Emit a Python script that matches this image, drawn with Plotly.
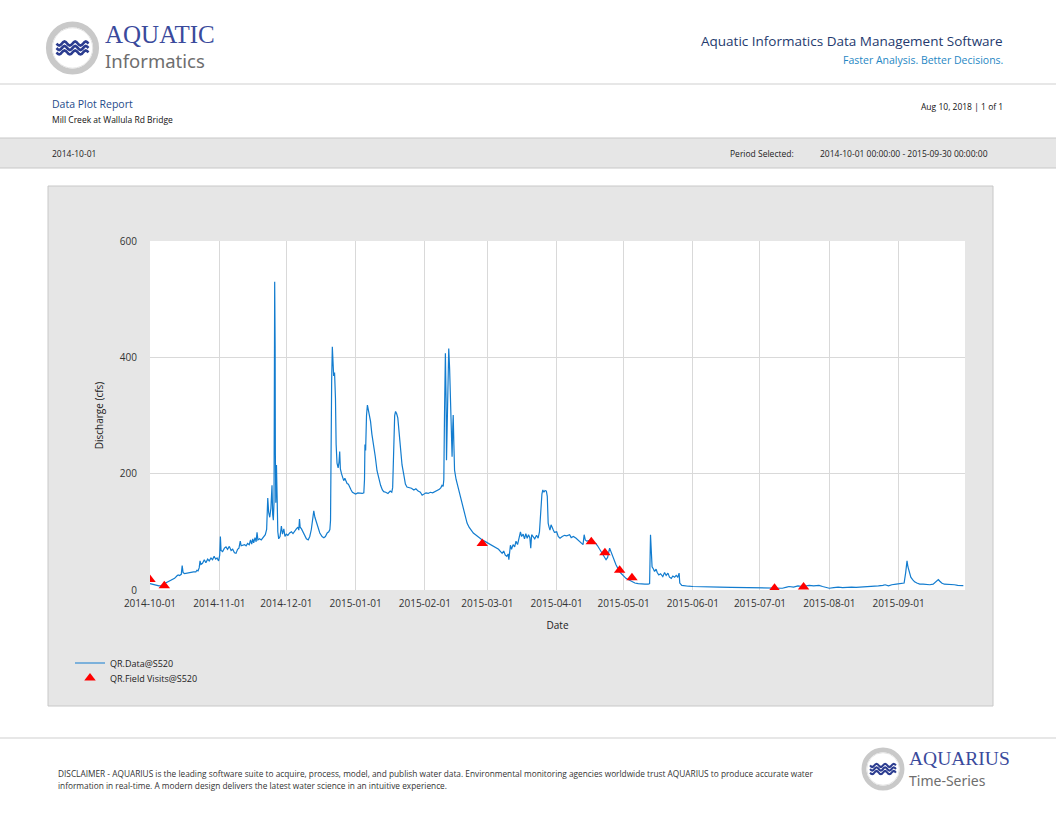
import math
import pandas as pd
import plotly.graph_objects as go

W, H = 1056, 816

# 流量数据：自 2014-10-01 起的天数 / 流量 (cfs)
start_date = "2014-10-01"
day_offsets = [
    0, 1, 2, 3, 4, 5, 6, 7, 8, 9, 10, 11, 12, 12.6, 13.2, 14, 14.4, 14.8, 15.5, 16.5,
    17.5, 18.5, 19.5, 20.5, 21, 21.5, 22, 22.4, 22.8, 23.5, 24.3, 25, 25.8, 26.5, 27.3, 28,
    28.7, 29.4, 30, 30.7, 31.2, 31.5, 31.8, 32.5, 33.3, 34, 34.7, 35.5, 36.3, 37, 37.8, 38.5,
    39.2, 39.8, 40.4, 40.8, 41.5, 42.3, 43, 43.7, 44.4, 45, 45.5, 46, 46.4, 47, 47.5, 47.9,
    48.3, 49, 49.8, 50.5, 51.2, 51.6, 52.2, 52.7, 53.1, 53.6, 54.1, 54.6, 54.9, 55.2, 55.5,
    55.8, 56.0, 56.1, 56.3, 56.6, 56.9, 57.2, 57.6, 58.2, 58.8, 59.3, 59.9, 60.4, 61, 61.7,
    62.5, 63.3, 64, 64.8, 65.5, 66.2, 66.6, 66.9, 67.2, 67.8, 68.5, 69.3, 70, 70.8, 71.5,
    72.2, 72.8, 73.3, 73.8, 74.5, 75.3, 76, 77, 77.8, 78.5, 79.3, 80, 80.5, 80.8, 81.0,
    81.3, 81.6, 81.9, 82.2, 82.6, 83, 83.3, 83.7, 84.2, 84.6, 84.9, 85.2, 85.7, 86.2, 86.7,
    87.2, 87.7, 88.2, 88.8, 89.4, 90, 90.6, 91.2, 92, 93, 94, 95, 95.7, 96.0, 96.2, 96.5,
    96.9, 97.3, 97.8, 98.3, 98.7, 99.3, 100.1, 100.8, 101.6, 102.4, 103.2, 104, 104.6,
    105.5, 106.5, 107.5, 108.2, 108.6, 109.0, 109.5, 109.9, 110.4, 110.9, 111.5, 112.2,
    112.8, 113.5, 114.3, 115, 116, 117, 118.1, 119, 120, 121, 121.8, 122.5, 123.5, 124.5,
    125.5, 126.5, 127.5, 128.5, 129.5, 130.2, 130.7, 131.2, 131.5, 131.8, 132.2, 132.5,
    132.7, 133.1, 133.5, 133.7, 134.1, 134.5, 134.9, 135.2, 135.5, 135.7, 136, 136.3, 137,
    137.8, 138.5, 139, 139.7, 140.5, 141.2, 141.9, 142.8, 143.8, 144.7, 145.7, 146.7,
    147.7, 148.7, 149.7, 150.6, 151.6, 152.5, 153.5, 154.5, 155.3, 156, 156.9, 157.6,
    158.3, 159, 159.7, 160.3, 160.6, 161, 161.3, 161.8, 162.5, 163.2, 163.8, 164.5, 165.2,
    165.8, 166.3, 167, 167.6, 168.2, 168.8, 169.4, 170, 170.4, 170.8, 171.5, 172.2, 173,
    173.7, 174.3, 174.7, 175, 175.4, 175.8, 176.3, 176.8, 177.4, 177.8, 178.2, 178.6, 179,
    179.5, 180, 180.5, 181, 182, 182.7, 183.5, 184.5, 185.5, 186.5, 187.8, 188.5, 189.5,
    190.7, 191.5, 192.5, 193.2, 193.8, 194.3, 194.8, 195.5, 196.5, 197.5, 198.5, 199.5,
    200.3, 201.2, 202, 202.8, 203.4, 204.1, 204.8, 205.3, 205.7, 206.3, 207, 207.8, 208.5,
    209.3, 210, 211, 212, 213, 214, 215, 216, 217, 218.5, 220, 221.5, 223, 223.6, 224,
    224.3, 224.7, 225.3, 225.8, 226.5, 227, 227.7, 228.5, 229.5, 230.3, 231, 231.8, 232.5,
    233.3, 234, 234.8, 235.5, 236.2, 236.8, 237.1, 238, 239.5, 241, 243, 246, 250, 255,
    260, 265, 270, 275, 280, 283, 285, 286, 288, 290, 292, 293.5, 295, 297, 299.4, 301,
    302.5, 304, 306, 308, 310, 312, 314, 316, 318, 320, 322, 324, 326, 328, 329, 330.5,
    332, 334, 336, 337.5, 338.2, 338.8, 339.2, 339.8, 340.5, 341.3, 342.2, 343.2, 344.5,
    346, 347.5, 349, 350.5, 351.5, 352.3, 352.8, 353.5, 354.3, 355.5, 357, 358.5, 360,
    361.5, 363, 364,
]
discharge = [
    11, 10, 9, 8, 7, 7.5, 9, 12, 14, 15, 17, 20, 24, 26, 25, 27, 42, 30, 28, 29,
    30, 30, 31, 31, 34, 33, 38, 50, 44, 46, 52, 47, 53, 50, 55, 52,
    58, 53, 55, 50, 60, 92, 68, 66, 72, 74, 70, 75, 68, 70, 64, 63,
    70, 72, 84, 76, 77, 78, 76, 80, 78, 86, 79, 88, 81, 90, 83, 99,
    86, 88, 86, 90, 92, 95, 104, 158, 134, 125, 140, 180, 130, 120, 150,
    530, 420, 235, 150, 215, 130, 100, 88, 92, 110, 96, 105, 92, 96, 94,
    98, 100, 97, 102, 105, 108, 103, 122, 108, 105, 100, 92, 88, 86, 92,
    104, 120, 136, 125, 116, 106, 98, 92, 90, 92, 98, 100, 104, 120, 350,
    360, 418, 380, 368, 374, 330, 250, 218, 210, 220, 238, 208, 200, 194, 188,
    192, 186, 183, 182, 176, 172, 168, 166, 165, 167, 166, 166, 167, 190, 250, 240,
    300, 318, 308, 300, 290, 268, 250, 230, 205, 190, 180, 172, 169,
    168, 166, 170, 168, 176, 240, 300, 307, 303, 296, 270, 240,
    215, 200, 182, 177, 176, 175, 172, 174, 170, 168, 163, 165, 167, 166,
    168, 167, 169, 171, 173, 176, 180, 178, 190, 300, 407, 330,
    223, 300, 410, 415, 380, 321, 260, 229, 280, 301, 250, 206, 190,
    178, 165, 160, 148, 133, 122, 115, 108, 102, 98, 95, 92,
    88, 86, 84, 82, 80, 78, 77, 74, 72, 70, 66, 63,
    67, 60, 58, 62, 52, 70, 77, 70, 78, 74, 84, 78, 90,
    100, 92, 96, 88, 97, 89, 95, 90, 72, 95, 92, 88, 94,
    89, 100, 120, 149, 165, 172, 168, 171, 170, 161, 115, 108, 103,
    112, 106, 103, 99, 100, 92, 89, 92, 94, 93, 95, 90, 92,
    89, 86, 84, 80, 78, 95, 86, 84, 85, 83, 82, 80,
    76, 70, 66, 60, 57, 52, 56, 65, 72, 66, 58, 49, 44,
    38, 32, 28, 24, 20, 18, 16, 14, 12, 11, 10, 10, 10, 11, 95,
    70, 40, 36, 32, 36, 30, 26, 28, 23, 30, 25, 29, 22,
    20, 24, 22, 25, 22, 29, 12, 8, 7, 6.5, 6, 5.5, 5, 5,
    4.5, 4, 3.5, 3, 2.5, 3, 5, 6, 5, 7, 6, 7, 8, 7, 8, 6,
    5, 3, 4, 5, 4, 5, 5, 4.5, 5, 4.5, 5, 6, 7, 8, 9, 7,
    9, 10, 11, 12, 30, 50, 40, 30, 22, 18, 14, 12, 10,
    10, 9, 9, 10, 13, 16, 18, 15, 12, 10, 10, 9, 9,
    8, 8, 7.5,
]

# 现场巡测点
visit_days = [0, 6.4, 148.7, 197.5, 203.6, 210.2, 215.7, 279.5, 292.5]
visit_values = [18, 7.5, 80, 83, 64, 34, 21, 3, 5]

t0 = pd.Timestamp(start_date)
dates = t0 + pd.to_timedelta(day_offsets, unit="D")
visit_dates = t0 + pd.to_timedelta(visit_days, unit="D")


def px(x):
    return x / W


def py(y):
    return 1 - y / H


def rect(x0, y0, x1, y1, fill, line="rgba(0,0,0,0)", lw=1):
    return dict(type="rect", xref="paper", yref="paper", layer="below",
                x0=px(x0), x1=px(x1), y0=py(y1), y1=py(y0),
                fillcolor=fill, line=dict(color=line, width=lw))


def hline(y, x0=0, x1=W, color="#cfcfcf"):
    return dict(type="line", xref="paper", yref="paper", layer="below",
                x0=px(x0), x1=px(x1), y0=py(y), y1=py(y),
                line=dict(color=color, width=1))


def logo(cx, cy, r):
    # 圆环 + 三条波浪线
    items = [
        dict(type="circle", xref="paper", yref="paper", layer="below",
             x0=px(cx - r), x1=px(cx + r), y0=py(cy + r), y1=py(cy - r),
             fillcolor="white", line=dict(color="#c9c9c9", width=r * 0.26)),
        dict(type="circle", xref="paper", yref="paper", layer="below",
             x0=px(cx - r * 0.86), x1=px(cx + r * 0.86),
             y0=py(cy + r * 0.86), y1=py(cy - r * 0.86),
             fillcolor="white", line=dict(color="#e4e4e4", width=1)),
    ]
    half = r * 0.68
    for k in (-1, 0, 1):
        yc = cy + k * r * 0.19
        pts = []
        n = 24
        for i in range(n + 1):
            xx = cx - half + 2 * half * i / n
            yy = yc + r * 0.085 * math.sin(i / n * 2 * math.pi * 3)
            pts.append(f"{px(xx):.5f},{py(yy):.5f}")
        items.append(dict(type="path", xref="paper", yref="paper", layer="below",
                          path="M" + " L".join(pts),
                          line=dict(color="#2b3c90", width=r * 0.11)))
    return items


def text(x, y, s, size, color="#222", anchor="left", family="Open Sans"):
    return dict(x=px(x), y=py(y), xref="paper", yref="paper", text=s,
                showarrow=False, xanchor=anchor, yanchor="middle",
                font=dict(size=size, color=color, family=family))


fig = go.Figure()

fig.add_trace(go.Scatter(
    x=dates, y=discharge, mode="lines", name="QR.Data@S520",
    line=dict(color="#127ccf", width=1.2), legend="legend",
))
fig.add_trace(go.Scatter(
    x=visit_dates, y=visit_values, mode="markers", name="QR.Field Visits@S520",
    marker=dict(symbol="triangle-up", size=10, color="#ff0000"), legend="legend2",
))

shapes = [
    hline(84),
    rect(-2, 138, W + 2, 168, "#e6e6e6", "#c8c8c8"),
    rect(48, 186, 993, 706, "#e6e6e6", "#c8c8c8"),
    rect(150, 241, 965, 590, "white"),
    hline(738),
]
shapes += logo(72.5, 48, 23.5)
shapes += logo(883, 769, 19)

annotations = [
    text(103, 35, "AQUATIC", 25, "#3a4a9c", family="Liberation Serif"),
    text(103, 61, "Informatics", 18.5, "#6e6e6e", family="Noto Sans"),
    text(1005, 41, "Aquatic Informatics Data Management Software", 13.5, "#243a6e", "right"),
    text(1005, 60, "Faster Analysis. Better Decisions.", 10.5, "#1f87c4", "right"),
    text(50, 104, "Data Plot Report", 10.5, "#1f4b8a"),
    text(50, 119, "Mill Creek at Wallula Rd Bridge", 8.5, "#111"),
    text(1005, 107, "Aug 10, 2018 | 1 of 1", 8.5, "#111", "right"),
    text(50, 153, "2014-10-01", 8.5, "#222"),
    text(728, 153, "Period Selected:", 8.5, "#222"),
    text(818, 153, "2014-10-01 00:00:00 - 2015-09-30 00:00:00", 8.5, "#222"),
    text(56, 773, "DISCLAIMER - AQUARIUS is the leading software suite to acquire, process, model, and "
                  "publish water data. Environmental monitoring agencies worldwide trust AQUARIUS to "
                  "produce accurate water", 8.3, "#333"),
    text(56, 785, "information in real-time. A modern design delivers the latest water science in an "
                  "intuitive experience.", 8.3, "#333"),
    text(907, 758, "AQUARIUS", 19.5, "#3a4a9c", family="Liberation Serif"),
    text(907, 780, "Time-Series", 14, "#6e6e6e", family="Noto Sans"),
]

legend_style = dict(xanchor="left", yanchor="middle", bgcolor="rgba(0,0,0,0)",
                    font=dict(size=9, color="#222"), itemwidth=30)

fig.update_layout(
    width=W, height=H,
    margin=dict(l=0, r=0, t=0, b=0, autoexpand=False),
    paper_bgcolor="white",
    plot_bgcolor="white",
    font=dict(family="Open Sans", size=10, color="#333"),
    showlegend=True,
    legend=dict(x=px(70), y=py(663), **legend_style),
    legend2=dict(x=px(70), y=py(678), **legend_style),
    shapes=shapes,
    annotations=annotations,
    xaxis=dict(
        domain=[px(150), px(965)],
        type="date",
        range=["2014-10-01", "2015-09-30 18:00"],
        dtick="M1", tick0="2014-10-01", tickformat="%Y-%m-%d",
        showgrid=True, gridcolor="#d9d9d9", gridwidth=1,
        zeroline=False, showline=False,
        tickfont=dict(size=10, color="#333"),
        ticks="outside", ticklen=4, tickcolor="rgba(0,0,0,0)",
        title=dict(text="Date", font=dict(size=10, color="#222"), standoff=12),
    ),
    yaxis=dict(
        domain=[py(590), py(241)],
        range=[0, 600], dtick=200,
        showgrid=True, gridcolor="#d9d9d9", gridwidth=1,
        zeroline=False, showline=False,
        tickfont=dict(size=10, color="#333"),
        ticks="outside", ticklen=10, tickcolor="rgba(0,0,0,0)",
        title=dict(text="Discharge (cfs)", font=dict(size=10, color="#222"), standoff=14),
    ),
)

fig.write_html("out.html", config={"displayModeBar": False},
               post_script="document.body.style.margin='0';")
